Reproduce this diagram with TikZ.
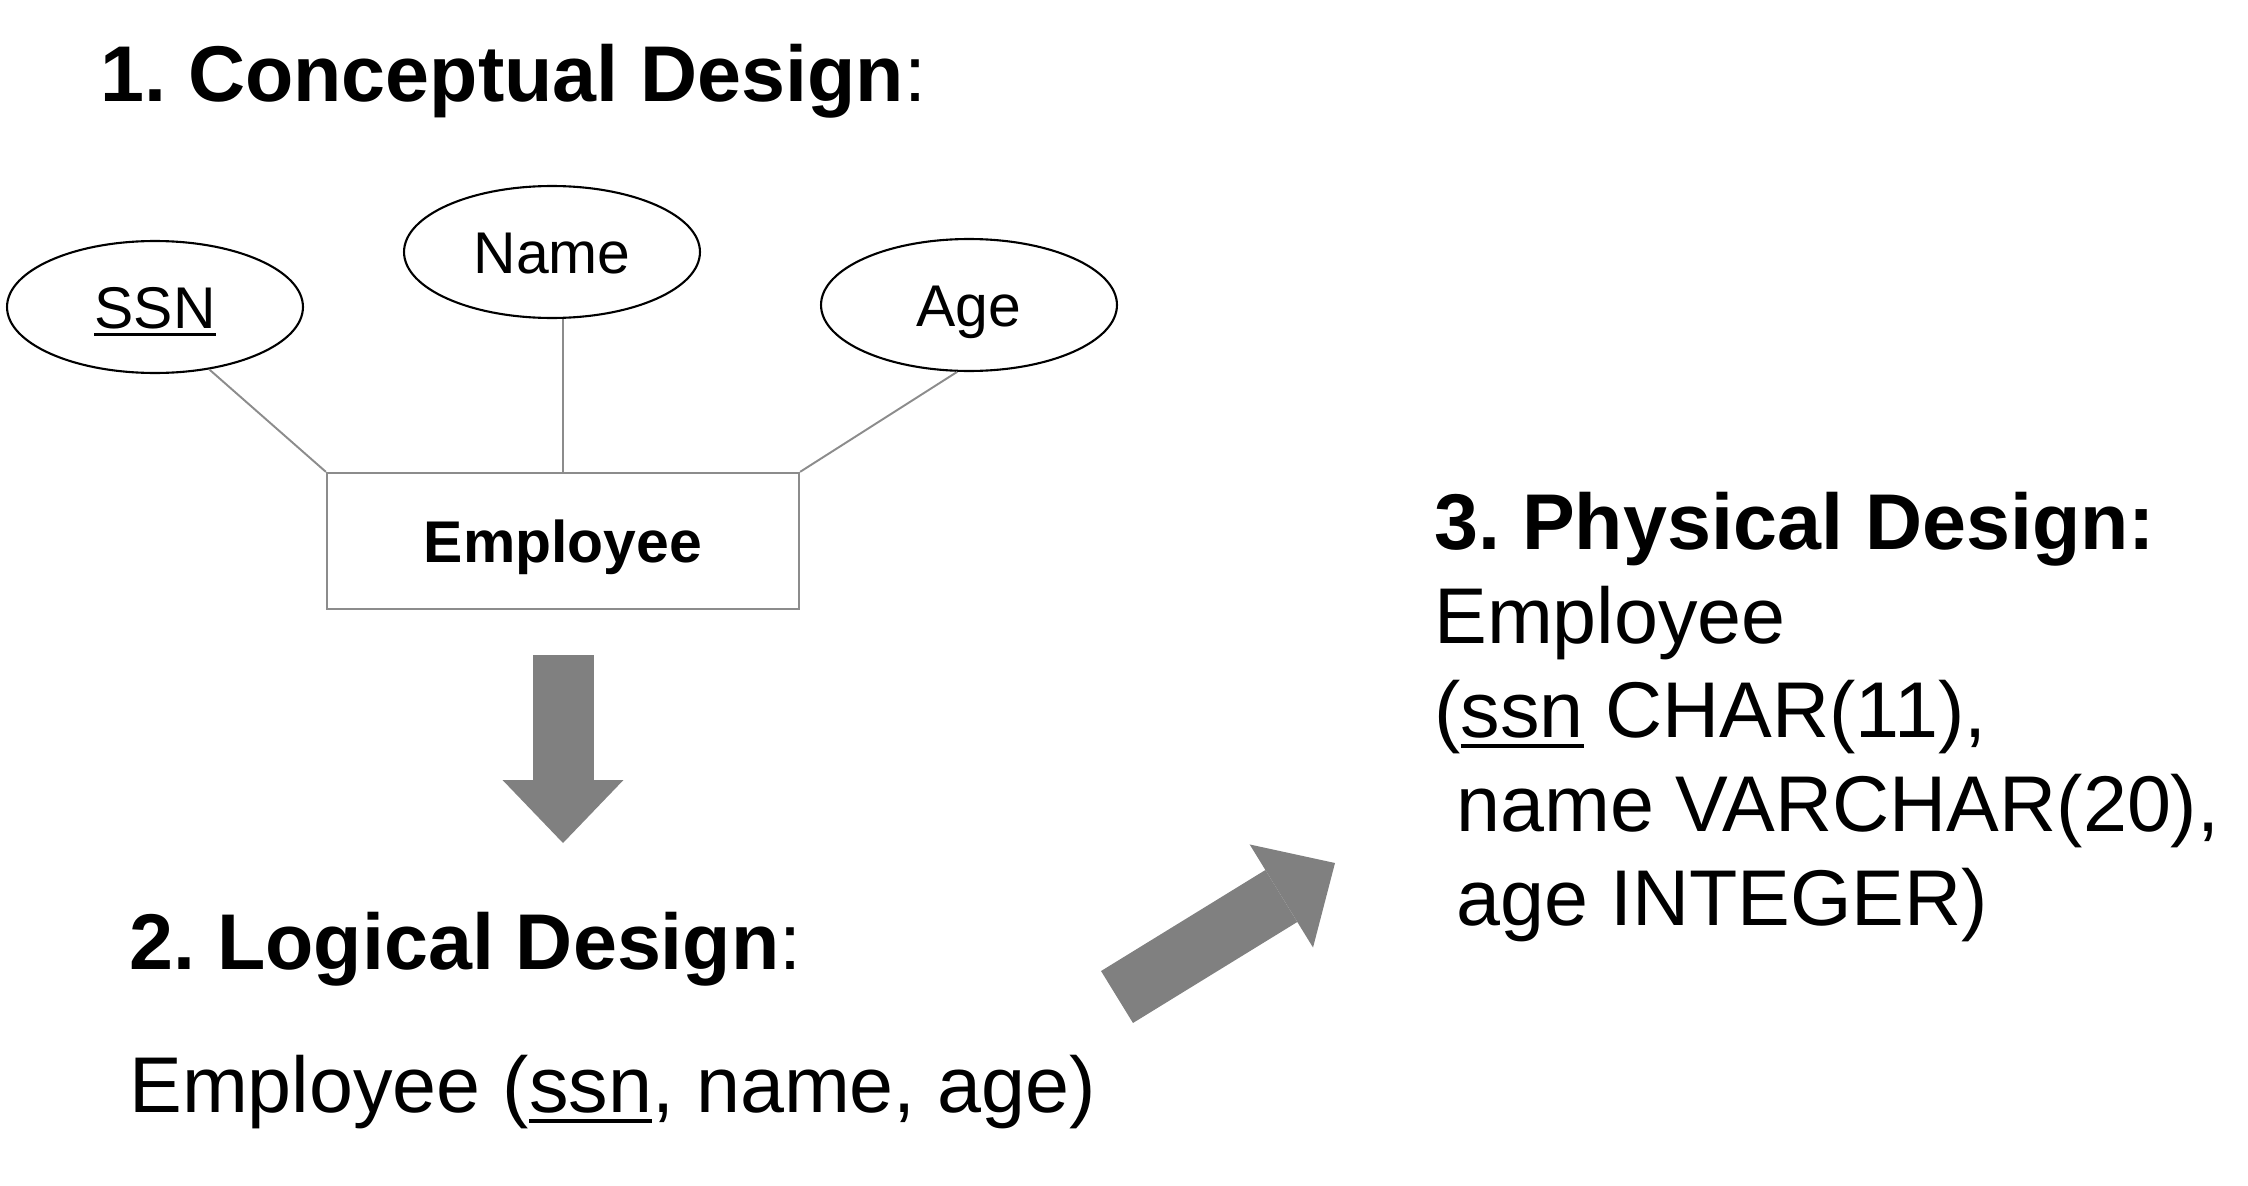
\documentclass[tikz,border=0pt]{standalone}
\usepackage{fontspec}
\setmainfont{Liberation Sans}
\usetikzlibrary{arrows.meta,shapes.geometric}
\frenchspacing

% key attribute, thick underline
\newcommand{\keyul}[1]{\setbox0\hbox{#1}\rlap{\rule[-0.14em]{\wd0}{0.055em}}\box0\relax}

\tikzset{
  attr/.style={draw=black,line width=1.2pt,ellipse,minimum width=5.92cm,minimum height=2.64cm,inner sep=0pt,text height=24pt,text depth=0pt,font=\fontsize{33.5}{40}\selectfont},
  entity/.style={draw=gray!90,line width=1.3pt,minimum width=9.44cm,minimum height=2.72cm,inner sep=0pt,text height=24pt,text depth=0pt,font=\bfseries\fontsize{33.5}{40}\selectfont},
  link/.style={draw=gray!90,line width=1.1pt},
  bigarrow/.style={draw=gray,line width=1.22cm,-{Triangle[length=1.26cm,width=2.42cm,line width=0pt]}},
  txt/.style={anchor=base west,inner sep=0pt,font=\fontsize{45}{54}\selectfont},
  ttl/.style={txt,font=\bfseries\fontsize{45}{54}\selectfont},
}

\begin{document}
\begin{tikzpicture}[x=0.02cm,y=-0.02cm]
  \useasboundingbox (0,0) rectangle (2248,1186);

  % conceptual design
  \node[ttl] (concept) at (100,102) {1. Conceptual Design{\mdseries :}};
  \node[attr] (ssn) at (155,307) {\keyul{SSN}};
  \node[attr] (name) at (552,252) {Name};
  \node[attr] (age) at (969,305) {Age};
  \node[entity] (emp) at (563,541) {Employee};
  \draw[link] (emp.north west) -- (ssn.311);
  \draw[link] (emp.north) -- (emp.north |- name.south);
  \draw[link] (emp.north east) -- (age.260);

  % logical design
  \coordinate (dtail) at (563,655);
  \coordinate (dtip) at (563,843);
  \draw[bigarrow] (dtail) -- (dtip);
  \node[ttl] (logic) at (129,969) {2. Logical Design{\mdseries :}};
  \node[txt] (rel) at (129,1112) {Employee (\keyul{ssn}, name, age)};

  % physical design
  \coordinate (utail) at (1117,997);
  \coordinate (utip) at (1335,863);
  \draw[bigarrow] (utail) -- (utip);
  \node[ttl] (phys) at (1434,549) {3. Physical Design:};
  \foreach \i/\t in {1/{Employee}, 2/{(\keyul{ssn} CHAR(11),}, 3/{\ name VARCHAR(20),}, 4/{\ age INTEGER)}} {
    \node[txt] (phys\i) at (1434,549+94*\i) {\t};
  }
\end{tikzpicture}
\end{document}
